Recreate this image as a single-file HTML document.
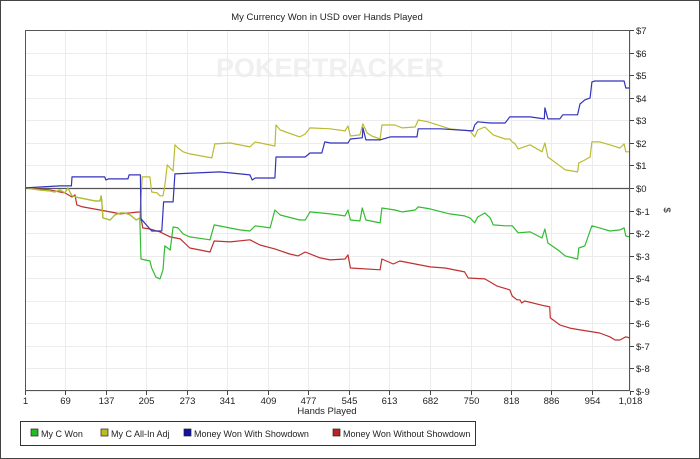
<!DOCTYPE html>
<html><head><meta charset="utf-8"><style>
body{margin:0;background:#fff;}
svg{display:block;font-family:"Liberation Sans",sans-serif;}
</style></head><body>
<svg id="chart" width="700" height="459">
<rect x="0.5" y="0.5" width="699" height="458" fill="#fff" stroke="#444"/>
<text x="327" y="20" font-size="9.5" text-anchor="middle" fill="#222">My Currency Won in USD over Hands Played</text>
<text x="330" y="77" font-size="27" font-weight="bold" text-anchor="middle" fill="#f0f0f0">POKERTRACKER</text>
<g id="grid"></g><g id="series"></g><g id="axes"></g>
<text x="327" y="414" font-size="9.5" text-anchor="middle" fill="#222">Hands Played</text>
<text x="664" y="210" font-size="9.5" text-anchor="middle" fill="#222" transform="rotate(90 664 210)">$</text>
<g>
<rect x="20.5" y="421.5" width="455" height="24" fill="#fff" stroke="#333"/>
<g><rect x="31" y="429" width="7" height="7" fill="#22bb22" stroke="#222" stroke-width="0.7"/><text x="41" y="437" font-size="9" fill="#222">My C Won</text></g>
<g><rect x="101" y="429" width="7" height="7" fill="#bbbb22" stroke="#222" stroke-width="0.7"/><text x="111" y="437" font-size="9" fill="#222">My C All-In Adj</text></g>
<g><rect x="184" y="429" width="7" height="7" fill="#1111aa" stroke="#222" stroke-width="0.7"/><text x="194" y="437" font-size="9" fill="#222">Money Won With Showdown</text></g>
<g><rect x="333" y="429" width="7" height="7" fill="#bb2222" stroke="#222" stroke-width="0.7"/><text x="343" y="437" font-size="9" fill="#222">Money Won Without Showdown</text></g>
</g>
</svg>
<script>
const xTicks=[1,69,137,205,273,341,409,477,545,613,682,750,818,886,954,1018];
const xTickLabels=["1","69","137","205","273","341","409","477","545","613","682","750","818","886","954","1,018"];
const yTicks=[7,6,5,4,3,2,1,0,-1,-2,-3,-4,-5,-6,-7,-8,-9];
const yTickLabels=["$7","$6","$5","$4","$3","$2","$1","$0","$-1","$-2","$-3","$-4","$-5","$-6","$-7","$-8","$-9"];
const blueHands=[1,60,79,80,135,137,141,174,176,195,196,214,231,234,250,253,329,379,383,388,421,423,472,480,500,505,514,544,548,568,569,574,598,615,660,662,699,754,757,762,783,808,816,850,874,875,880,900,905,930,934,942,951,954,959,1008,1011,1018];
const blueVals=[0,0.09,0.09,0.49,0.49,0.35,0.40,0.40,0.58,0.58,-1.37,-1.91,-1.91,-0.62,-0.62,0.62,0.71,0.58,0.35,0.44,0.44,1.37,1.37,1.55,1.55,2.04,1.99,1.99,2.17,2.22,2.66,2.13,2.13,2.26,2.26,2.62,2.62,2.53,2.79,2.93,2.88,2.88,3.15,3.15,3.06,3.55,3.06,3.06,3.24,3.24,3.72,3.90,3.99,4.70,4.74,4.74,4.43,4.43];
const greenHands=[1,26,43,51,60,68,73,80,93,110,119,127,129,130,132,144,152,161,169,178,188,194,196,211,214,221,228,233,236,245,250,258,267,278,312,319,337,362,379,388,413,421,430,463,472,480,514,539,544,548,564,568,574,598,601,623,635,657,662,682,715,740,749,757,762,774,783,788,808,820,830,850,870,875,880,897,909,930,932,942,954,967,984,1001,1008,1011,1018];
const greenVals=[0,-0.09,-0.13,-0.18,-0.09,-0.22,0,-0.35,-0.44,-0.53,-0.58,-0.58,-0.35,-0.53,-1.33,-1.42,-1.20,-1.11,-1.11,-1.20,-1.42,-1.33,-3.15,-3.24,-3.55,-3.95,-4.03,-3.63,-2.57,-2.75,-1.73,-1.77,-2.04,-2.17,-2.30,-1.64,-1.73,-1.86,-1.91,-1.68,-1.77,-0.98,-1.20,-1.42,-1.42,-1.06,-1.15,-1.24,-0.98,-1.42,-1.46,-0.89,-1.42,-1.55,-0.89,-0.98,-1.06,-0.98,-0.84,-0.93,-1.15,-1.24,-1.33,-1.55,-1.29,-1.11,-1.33,-1.64,-1.68,-1.68,-1.99,-1.95,-2.22,-1.82,-2.44,-2.75,-3.01,-3.15,-2.66,-2.57,-1.68,-1.77,-1.91,-1.86,-1.77,-2.13,-2.17];
const yellowHands=[1,26,43,51,60,68,73,80,93,110,119,127,129,130,132,144,152,161,169,178,188,194,198,211,214,223,228,233,236,240,250,253,258,267,278,315,320,346,379,388,421,423,430,463,472,480,514,539,544,548,564,569,576,584,598,601,623,635,657,662,678,715,749,757,762,774,788,808,816,820,825,830,850,870,875,880,900,909,930,932,942,951,954,967,984,1001,1008,1011,1018];
const yellowVals=[0,-0.09,-0.13,-0.18,-0.09,-0.22,0,-0.35,-0.44,-0.53,-0.58,-0.58,-0.35,-0.53,-1.33,-1.42,-1.20,-1.11,-1.11,-1.20,-1.42,-1.33,0.49,0.49,-0.18,-0.22,-0.35,-0.35,0.09,1.02,0.75,1.91,1.77,1.60,1.51,1.33,1.95,1.99,1.82,2.04,1.86,2.79,2.57,2.26,2.39,2.66,2.62,2.53,2.75,2.30,2.35,2.84,2.44,2.30,2.17,2.79,2.79,2.66,2.70,3.01,2.93,2.62,2.53,2.26,2.57,2.70,2.35,2.17,2.17,2.04,1.95,1.73,1.91,1.60,1.99,1.37,0.98,0.80,0.71,1.11,1.24,1.37,2.04,2.04,1.91,1.77,1.95,1.60,1.60];
const redHands=[1,43,60,68,80,85,88,98,127,154,161,194,199,211,228,245,262,278,312,319,346,379,396,421,446,460,472,497,514,539,544,548,598,601,620,631,682,707,740,746,774,783,794,816,820,828,833,836,841,875,883,884,900,917,934,967,984,993,1001,1011,1018];
const redVals=[0,-0.09,-0.18,-0.22,-0.40,-0.31,-0.75,-0.84,-0.98,-1.11,-1.15,-1.06,-1.77,-1.82,-1.95,-2.17,-2.26,-2.66,-2.84,-2.35,-2.39,-2.30,-2.53,-2.70,-2.93,-3.01,-2.84,-3.10,-3.19,-3.15,-2.97,-3.55,-3.63,-3.15,-3.37,-3.24,-3.50,-3.55,-3.72,-3.99,-4.03,-4.17,-4.34,-4.52,-4.79,-4.96,-4.96,-5.10,-5.01,-5.23,-5.27,-5.76,-6.07,-6.21,-6.29,-6.43,-6.60,-6.74,-6.74,-6.60,-6.65];

const L=25,R=630,T=30,B=391,xMin=1,xMax=1018,yMax=7,yMin=-9;
const NS="http://www.w3.org/2000/svg";
function xs(h){return L+(h-xMin)/(xMax-xMin)*(R-L);}
function ys(v){return T+(yMax-v)/(yMax-yMin)*(B-T);}
function mk(tag,attrs,parent){const e=document.createElementNS(NS,tag);for(const k in attrs)e.setAttribute(k,attrs[k]);parent.appendChild(e);return e;}
const grid=document.getElementById('grid'),axes=document.getElementById('axes'),ser=document.getElementById('series');
yTicks.forEach((v,i)=>{
  const y=Math.round(ys(v))+0.5;
  const g=mk('line',{x1:L,x2:R,y1:y,y2:y,stroke:'#ececec','stroke-width':1},grid);
  
  
  mk('line',{x1:R,x2:R+4,y1:y,y2:y,stroke:'#444'},axes);
  const t=mk('text',{x:R+6,y:y+3.5,'font-size':9.5,fill:'#222'},axes);
  t.textContent=yTickLabels[i];
  
  
});
xTicks.forEach((h,i)=>{
  const x=Math.round(xs(h))+0.5;
  const g=mk('line',{x1:x,x2:x,y1:T,y2:B,stroke:'#ececec','stroke-width':1},grid);
  
  
  mk('line',{x1:x,x2:x,y1:B,y2:B+4,stroke:'#444'},axes);
  const t=mk('text',{x:x,y:B+13,'font-size':9.5,fill:'#222','text-anchor':'middle'},axes);
  t.textContent=xTickLabels[i];
  
  
});
const zy=Math.round(ys(0))+0.5;
const z=mk('line',{x1:L,x2:R,y1:zy,y2:zy,stroke:'#555','stroke-width':1.3},grid);


const fr=mk('rect',{x:L+0.5,y:T+0.5,width:R-L-1,height:B-T-1,fill:'none',stroke:'#555'},axes);


function line(hs,vs,color,name){
  const d=hs.map((h,i)=>(i?'L':'M')+xs(h).toFixed(1)+','+ys(vs[i]).toFixed(1)).join('');
  const p=mk('path',{d:d,fill:'none',stroke:color,'stroke-width':1.2,'stroke-linejoin':'round'},ser);
  
  
}
line(redHands,redVals,'#c03030','series-without-showdown');
line(greenHands,greenVals,'#33bb33','series-my-c-won');
line(yellowHands,yellowVals,'#bbbb33','series-all-in-adj');
line(blueHands,blueVals,'#3333bb','series-with-showdown');
</script>
</body></html>
